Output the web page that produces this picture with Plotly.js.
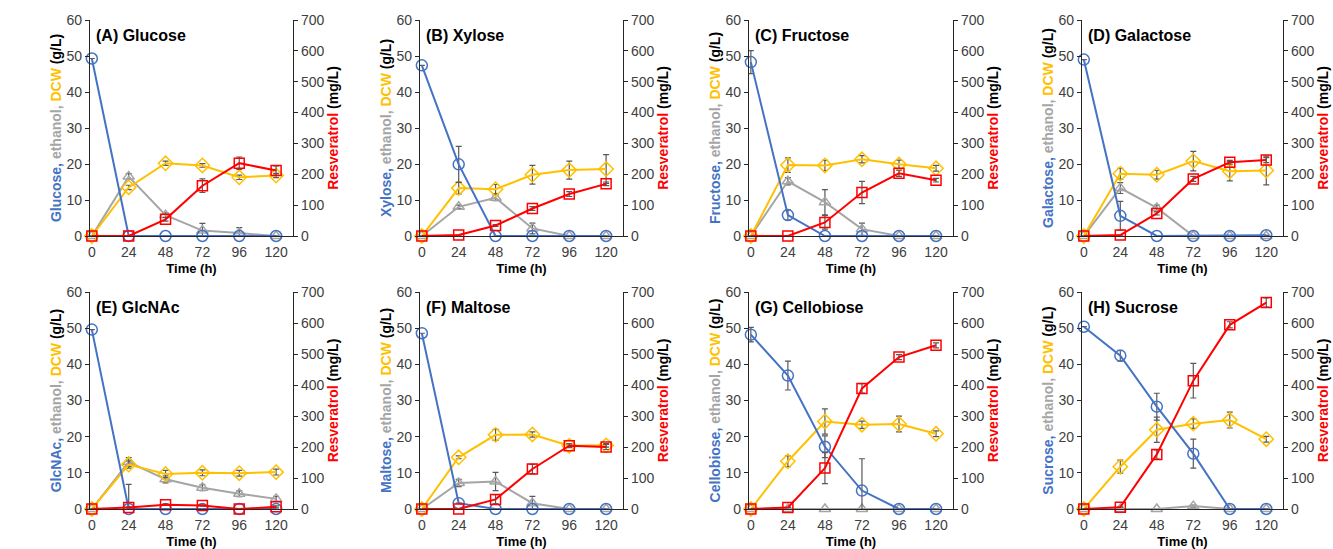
<!DOCTYPE html>
<html>
<head>
<meta charset="utf-8">
<script src="https://cdn.plot.ly/plotly-3.0.1.min.js"></script>
<style>html,body{margin:0;padding:0;background:#fff;}#chart{width:1333px;height:549px;}</style>
</head>
<body>
<div id="chart"></div>
<script>
// ---- Data ----
const time = [0, 24, 48, 72, 96, 120];
const panelLabels = ['(A) Glucose', '(B) Xylose', '(C) Fructose', '(D) Galactose', '(E) GlcNAc', '(F) Maltose', '(G) Cellobiose', '(H) Sucrose'];
const sugarNames = ['Glucose', 'Xylose', 'Fructose', 'Galactose', 'GlcNAc', 'Maltose', 'Cellobiose', 'Sucrose'];

// (A) Glucose
const sugarA = [49.3, 0, 0, 0, 0, 0];
const sugarErrA = [0, 0, 0, 0, 0, 0];
const ethanolA = [0, 16.5, 5.8, 1.5, 0.8, 0];
const ethanolErrA = [0, 0.8, 0.6, 2.0, 1.5, 0];
const dcwA = [0, 13.5, 20.2, 19.6, 16.3, 16.8];
const dcwErrA = [0, 0.6, 0.6, 0.5, 0.6, 0.6];
const resA = [0, 0, 54, 163, 236, 212];
const resErrA = [0, 0, 6, 22, 20, 15];

// (B) Xylose
const sugarB = [47.4, 19.9, 0, 0, 0, 0];
const sugarErrB = [0, 5.0, 0, 0, 0, 0];
const ethanolB = [0, 8.1, 10.6, 2.1, 0, 0];
const ethanolErrB = [0, 0.5, 0.8, 1.5, 0, 0];
const dcwB = [0, 13.3, 13.0, 17.0, 18.3, 18.6];
const dcwErrB = [0, 1.6, 1.3, 2.6, 2.5, 4.0];
const resB = [0, 3, 34, 89, 136, 169];
const resErrB = [0, 0, 3, 6, 8, 6];

// (C) Fructose
const sugarC = [48.3, 5.8, 0, 0, 0, 0];
const sugarErrC = [3.2, 1.4, 0, 0, 0, 0];
const ethanolC = [0, 15.2, 9.4, 1.9, 0, 0];
const ethanolErrC = [0, 1.0, 3.5, 1.7, 0, 0];
const dcwC = [0, 19.7, 19.6, 21.3, 19.9, 18.8];
const dcwErrC = [0, 2.0, 1.4, 1.0, 1.2, 0.8];
const resC = [0, 0, 44, 141, 203, 181];
const resErrC = [0, 0, 22, 36, 10, 6];

// (D) Galactose
const sugarD = [49.0, 5.6, 0, 0, 0, 0.2];
const sugarErrD = [0, 4.0, 0, 0, 0, 0];
const ethanolD = [0, 13.3, 7.8, 0, 0, 0];
const ethanolErrD = [0, 1.5, 0.8, 0, 0, 0];
const dcwD = [0, 17.3, 17.0, 20.8, 18.0, 18.2];
const dcwErrD = [0, 1.5, 1.2, 2.7, 2.7, 4.0];
const resD = [0, 3, 73, 185, 239, 246];
const resErrD = [0, 0, 5, 8, 6, 8];

// (E) GlcNAc
const sugarE = [49.6, 0, 0, 0, 0, 0];
const sugarErrE = [0, 6.8, 0, 0, 0, 0];
const ethanolE = [0, 13.0, 8.2, 5.9, 4.2, 2.8];
const ethanolErrE = [0, 1.2, 1.0, 0.8, 0.8, 0.7];
const dcwE = [0, 12.3, 9.7, 10.0, 9.9, 10.2];
const dcwErrE = [0, 1.0, 1.0, 0.8, 0.8, 0.8];
const resE = [0, 5, 14, 11, 0, 7];
const resErrE = [0, 2, 2, 2, 0, 3];

// (F) Maltose
const sugarF = [48.6, 1.6, 0, 0, 0, 0];
const sugarErrF = [0, 0, 0, 0, 0, 0];
const ethanolF = [0, 7.2, 7.6, 1.6, 0, 0];
const ethanolErrF = [0, 1.0, 2.5, 1.9, 0, 0];
const dcwF = [0, 14.3, 20.5, 20.6, 17.5, 17.6];
const dcwErrF = [0, 0.4, 1.5, 0.7, 0.5, 0.5];
const resF = [0, 0, 31, 129, 204, 200];
const resErrF = [0, 0, 15, 15, 6, 8];

// (G) Cellobiose
const sugarG = [48.2, 36.9, 17.2, 5.1, 0, 0];
const sugarErrG = [2.0, 4.0, 3.0, 8.8, 0, 0];
const ethanolG = [0, 0, 0, 0, 0, 0];
const ethanolErrG = [0, 0, 0, 0, 0, 0];
const dcwG = [0, 13.2, 24.2, 23.3, 23.5, 20.8];
const dcwErrG = [0, 1.5, 3.5, 1.0, 2.2, 0.8];
const resG = [0, 5, 132, 389, 490, 528];
const resErrG = [0, 0, 50, 15, 8, 8];

// (H) Sucrose
const sugarH = [50.4, 42.4, 28.3, 15.3, 0, 0];
const sugarErrH = [0, 1.5, 3.7, 4.0, 0, 0];
const ethanolH = [0, 0, 0, 0.8, 0, 0];
const ethanolErrH = [0, 0, 0, 0.3, 0, 0];
const dcwH = [0, 11.7, 21.9, 23.6, 24.6, 19.3];
const dcwErrH = [0, 1.8, 3.5, 1.3, 2.2, 0.8];
const resH = [0, 6, 176, 414, 594, 666];
const resErrH = [0, 0, 15, 56, 10, 15];

const sugarSets = [sugarA, sugarB, sugarC, sugarD, sugarE, sugarF, sugarG, sugarH];
const sugarErrSets = [sugarErrA, sugarErrB, sugarErrC, sugarErrD, sugarErrE, sugarErrF, sugarErrG, sugarErrH];
const ethanolSets = [ethanolA, ethanolB, ethanolC, ethanolD, ethanolE, ethanolF, ethanolG, ethanolH];
const ethanolErrSets = [ethanolErrA, ethanolErrB, ethanolErrC, ethanolErrD, ethanolErrE, ethanolErrF, ethanolErrG, ethanolErrH];
const dcwSets = [dcwA, dcwB, dcwC, dcwD, dcwE, dcwF, dcwG, dcwH];
const dcwErrSets = [dcwErrA, dcwErrB, dcwErrC, dcwErrD, dcwErrE, dcwErrF, dcwErrG, dcwErrH];
const resSets = [resA, resB, resC, resD, resE, resF, resG, resH];
const resErrSets = [resErrA, resErrB, resErrC, resErrD, resErrE, resErrF, resErrG, resErrH];

// ---- Styling ----
const W = 1333, H = 549;
const BLUE = '#4472C4', GRAY = '#A5A5A5', ORANGE = '#FFC000', RED = '#FF0000';
const ERR = '#595959';
const FONT = 'Liberation Sans, Arial, sans-serif';
const colLeft = [90, 420, 749, 1082];
const colRight = [293, 623, 953, 1283];
const rowTop = [20, 292];
const rowBottom = [236, 509];

const data = [];
const layout = {
  width: W, height: H,
  margin: {l: 0, r: 0, t: 0, b: 0},
  paper_bgcolor: '#fff', plot_bgcolor: 'rgba(0,0,0,0)',
  showlegend: false,
  font: {family: FONT, size: 14, color: '#404040'},
  annotations: []
};

function errObj(arr) {
  return {type: 'data', array: arr, visible: true, color: ERR, thickness: 1.2, width: 3};
}

for (let i = 0; i < 8; i++) {
  const col = i % 4, row = Math.floor(i / 4);
  const xn = i + 1, yl = 2 * i + 1, yr = 2 * i + 2;
  const xs = 'x' + xn, yls = 'y' + yl, yrs = 'y' + yr;
  const xkey = 'xaxis' + xn, ylkey = 'yaxis' + yl, yrkey = 'yaxis' + yr;

  layout[xkey] = {
    domain: [colLeft[col] / W, colRight[col] / W],
    anchor: yls,
    range: [-1.2, 131],
    tickvals: time,
    ticktext: time.map(String),
    showgrid: false, zeroline: false,
    showline: true, linecolor: '#262626', linewidth: 1.2,
    ticks: '', ticklabelstandoff: 3,
    tickfont: {family: FONT, size: 14, color: '#404040'},
    title: {text: '<b>Time (h)</b>', font: {family: FONT, size: 13, color: '#000'}, standoff: 4}
  };
  layout[ylkey] = {
    domain: [1 - rowBottom[row] / H, 1 - rowTop[row] / H],
    anchor: xs,
    range: [0, 60], dtick: 10,
    showgrid: false, zeroline: false,
    showline: true, linecolor: '#262626', linewidth: 1.2,
    ticks: 'outside', ticklen: 4, tickcolor: '#262626',
    tickfont: {family: FONT, size: 14, color: '#404040'},
    title: {
      text: '<b><span style="color:' + BLUE + '">' + sugarNames[i] + ',</span> <span style="color:' + GRAY + '">ethanol,</span> <span style="color:' + ORANGE + '">DCW</span> <span style="color:#000">(g/L)</span></b>',
      font: {family: FONT, size: 14, color: '#000'}, standoff: 1
    }
  };
  layout[yrkey] = {
    overlaying: yls,
    anchor: xs,
    side: 'right',
    range: [0, 700], dtick: 100,
    showgrid: false, zeroline: false,
    showline: true, linecolor: '#262626', linewidth: 1.2,
    ticks: 'outside', ticklen: 4, tickcolor: '#262626',
    tickfont: {family: FONT, size: 14, color: '#404040'},
    title: {
      text: '<b><span style="color:' + RED + '">Resveratrol</span> <span style="color:#000">(mg/L)</span></b>',
      font: {family: FONT, size: 14, color: '#000'}, standoff: 1
    }
  };

  layout.annotations.push({
    xref: xs + ' domain', yref: yls + ' domain',
    x: 0.02, y: 0.93, xanchor: 'left', yanchor: 'middle',
    text: '<b>' + panelLabels[i] + '</b>', showarrow: false,
    font: {family: FONT, size: 16, color: '#000'}
  });

  const common = {x: time, xaxis: xs, mode: 'lines+markers', cliponaxis: false, hoverinfo: 'skip'};
  data.push(Object.assign({}, common, {
    y: ethanolSets[i], yaxis: yls,
    line: {color: GRAY, width: 2},
    marker: {symbol: 'triangle-up-open', size: 10, color: GRAY, line: {color: GRAY, width: 1.5}},
    error_y: errObj(ethanolErrSets[i])
  }));
  data.push(Object.assign({}, common, {
    y: dcwSets[i], yaxis: yls,
    line: {color: ORANGE, width: 2},
    marker: {symbol: 'diamond-open', size: 11, color: ORANGE, line: {color: ORANGE, width: 1.5}},
    error_y: errObj(dcwErrSets[i])
  }));
  data.push(Object.assign({}, common, {
    y: sugarSets[i], yaxis: yls,
    line: {color: BLUE, width: 2},
    marker: {symbol: 'circle-open', size: 11, color: BLUE, line: {color: BLUE, width: 1.5}},
    error_y: errObj(sugarErrSets[i])
  }));
  data.push(Object.assign({}, common, {
    y: resSets[i], yaxis: yrs,
    line: {color: RED, width: 2},
    marker: {symbol: 'square-open', size: 10, color: RED, line: {color: RED, width: 1.5}},
    error_y: errObj(resErrSets[i])
  }));
}

Plotly.newPlot('chart', data, layout, {staticPlot: true, displayModeBar: false});
</script>
</body>
</html>
